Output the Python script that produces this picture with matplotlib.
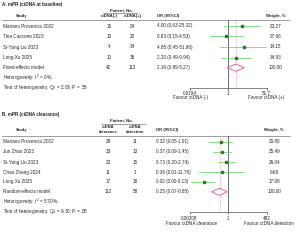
import matplotlib
matplotlib.use("Agg")
import matplotlib.pyplot as plt
from matplotlib.patches import Polygon

plt.rcParams['font.family'] = ['Liberation Sans', 'DejaVu Sans']

# ---------------- Data: panel A ----------------
studies_a = ["Mariano Provencio 2022", "Tina Cascone 2023", "Si-Yang Liu 2023", "Long Xu 2025"]
neg_a = [15, 13, 4, 10]
pos_a = [24, 20, 34, 35]
or_a = [4.00, 0.83, 4.85, 2.20]
lo_a = [0.63, 0.15, 0.45, 0.49]
hi_a = [25.32, 4.53, 51.66, 9.94]
wt_a = [23.27, 27.66, 14.15, 34.93]
pool_a = ("Fixed-effects model", 42, 113, 2.16, 0.89, 5.27, 100.00)
xlim_a = (0.0194, 51.7)
ticklab_a = ["0.0194", "1", "51.7"]

# ---------------- Data: panel B ----------------
studies_b = ["Mariano Provencio 2022", "Jun Zhao 2023", "Si-Yang Liu 2023", "Chao Zhang 2024", "Long Xu 2025"]
clr_b = [28, 33, 23, 11, 17]
det_b = [11, 13, 15, 1, 18]
or_b = [0.32, 0.37, 0.73, 0.39, 0.02]
lo_b = [0.05, 0.09, 0.20, 0.01, 0.0025]
hi_b = [1.91, 1.45, 2.74, 11.76, 0.13]
ci_txt_b = ["0.32 (0.05-1.91)", "0.37 (0.09-1.45)", "0.73 (0.20-2.74)", "0.39 (0.01-11.76)", "0.02 (0.00-0.13)"]
wt_b = [20.80, 25.49, 26.04, 9.69, 17.98]
pool_b = ("Random-effects model", 112, 58, 0.25, 0.07, 0.85, 100.00)
xlim_b = (0.00208, 482)
ticklab_b = ["0.00208", "1", "482"]

FS = 3.3
HFS = 3.0
LINE_GREEN = "#72d872"
SQ_GREEN = "#2a7a2a"
DIAMOND = "#e0507a"
DASH = "#f29ab0"
GRAY = "#555555"

fig = plt.figure(figsize=(3, 2.4), dpi=100)
ax0 = fig.add_axes([0, 0, 1, 1])
ax0.set_xlim(0, 300)
ax0.set_ylim(240, 0)
ax0.axis('off')


def T(x, y, s, ha='left', bold=False, fs=FS):
    ax0.text(x, y, s, ha=ha, va='center', fontsize=fs,
             fontweight='bold' if bold else 'normal', color='#262626')


def forest(ytop, ybot, xl, xr, xlim, ticklabs, rows_y, ors, los, his, pool, pool_y):
    ax = fig.add_axes([xl / 300, 1 - ybot / 240, (xr - xl) / 300, (ybot - ytop) / 240])
    ax.patch.set_alpha(0)
    ax.set_xscale('log')
    ax.set_xlim(*xlim)
    ax.set_ylim(ybot, ytop)
    for s in ['top', 'left', 'right']:
        ax.spines[s].set_visible(False)
    ax.spines['bottom'].set_linewidth(0.5)
    ax.spines['bottom'].set_color(GRAY)
    ax.set_yticks([])
    ax.set_xticks([xlim[0], 1, xlim[1]])
    ax.set_xticklabels(ticklabs)
    ax.minorticks_off()
    ax.tick_params(axis='x', labelsize=FS, length=1.5, width=0.5, pad=1, colors='#262626')
    ax.axvline(1, color=GRAY, lw=0.6)
    ax.axvline(pool[3], color=DASH, lw=0.5, ls=(0, (2, 1.2)))
    for y, o, lo, hi in zip(rows_y, ors, los, his):
        ax.plot([max(lo, xlim[0]), min(hi, xlim[1])], [y, y], color=LINE_GREEN, lw=0.6)
        ax.plot([o], [y], marker='s', ms=1.8, color=SQ_GREEN, mec=SQ_GREEN)
    est, lo, hi = pool[3], pool[4], pool[5]
    h = 3.6
    poly = Polygon([[lo, pool_y], [est, pool_y - h], [hi, pool_y], [est, pool_y + h]],
                   closed=True, facecolor='white', edgecolor=DIAMOND, lw=0.6, zorder=5)
    ax.add_patch(poly)
    return ax


# ---------------- Panel A ----------------
T(2, 4.5, "A. mPR (ctDNA at baseline)", bold=True)
T(121, 10.3, "Patient, No.", ha='center', bold=True, fs=HFS)
ax0.plot([103, 138], [12.5, 12.5], color=GRAY, lw=0.4)
T(22, 15.5, "Study", ha='center', bold=True, fs=HFS)
T(109, 15.5, "ctDNA(-)", ha='center', bold=True, fs=HFS)
T(132.5, 15.5, "ctDNA(+)", ha='center', bold=True, fs=HFS)
T(157, 15.5, "OR (95%CI)", bold=True, fs=HFS)
T(275.5, 15.5, "Weight, %", ha='center', bold=True, fs=HFS)
ax0.plot([2, 290], [19.5, 19.5], color=GRAY, lw=0.4)

rows_a = [26.0, 36.3, 47.0, 57.5]
for y, s, n1, n2, o, l, h, w in zip(rows_a, studies_a, neg_a, pos_a, or_a, lo_a, hi_a, wt_a):
    T(3, y, s)
    T(109, y, str(n1), ha='center')
    T(132.5, y, str(n2), ha='center')
    T(157, y, f"{o:.2f} ({l:.2f}-{h:.2f})")
    T(275.5, y, f"{w:.2f}", ha='center')
ya = 67.7
T(3, ya, pool_a[0])
T(109, ya, str(pool_a[1]), ha='center')
T(132.5, ya, str(pool_a[2]), ha='center')
T(157, ya, f"{pool_a[3]:.2f} ({pool_a[4]:.2f}-{pool_a[5]:.2f})")
T(275.5, ya, f"{pool_a[6]:.2f}", ha='center')
T(3, 77.7, "Heterogeneity: $I^2$ = 0%;")
T(3, 87.7, "Test of heterogeneity: Q$_3$ = 2.09; P = .55")

forest(19.5, 87.7, 190, 266.5, xlim_a, ticklab_a, rows_a, or_a, lo_a, hi_a, pool_a, ya)
T(191, 97.7, "Favour ctDNA (-)", ha='center')
T(266, 97.7, "Favour ctDNA (+)", ha='center')

# ---------------- Panel B ----------------
T(2, 114.3, "B. mPR (ctDNA clearance)", bold=True)
T(121, 120.2, "Patient, No.", ha='center', bold=True, fs=HFS)
ax0.plot([101, 146], [123.5, 123.5], color=GRAY, lw=0.4)
T(22, 130, "Study", ha='center', bold=True, fs=HFS)
T(108, 127.3, "ctDNA", ha='center', bold=True, fs=HFS)
T(108, 131.8, "clearance", ha='center', bold=True, fs=HFS)
T(135, 127.3, "ctDNA", ha='center', bold=True, fs=HFS)
T(135, 131.8, "detection", ha='center', bold=True, fs=HFS)
T(156, 130, "OR (95%CI)", bold=True, fs=HFS)
T(274, 130, "Weight, %", ha='center', bold=True, fs=HFS)
ax0.plot([2, 290], [136, 136], color=GRAY, lw=0.4)

rows_b = [141.7, 151.8, 162.2, 172.2, 181.8]
for y, s, n1, n2, c, w in zip(rows_b, studies_b, clr_b, det_b, ci_txt_b, wt_b):
    T(3, y, s)
    T(108, y, str(n1), ha='center')
    T(135, y, str(n2), ha='center')
    T(156, y, c)
    T(274.5, y, f"{w:.2f}", ha='center')
yb = 191.8
T(3, yb, pool_b[0])
T(108, yb, str(pool_b[1]), ha='center')
T(135, yb, str(pool_b[2]), ha='center')
T(156, yb, f"{pool_b[3]:.2f} ({pool_b[4]:.2f}-{pool_b[5]:.2f})")
T(274.5, yb, f"{pool_b[6]:.2f}", ha='center')
T(3, 201.7, "Heterogeneity: $I^2$ = 57.0%;")
T(3, 211.7, "Test of heterogeneity: Q$_4$ = 9.30; P = .05")

forest(136, 212.3, 189.5, 267, xlim_b, ticklab_b, rows_b, or_b, lo_b, hi_b, pool_b, yb)
T(192, 223.3, "Favour ctDNA clearance", ha='center')
T(269, 223.3, "Favour ctDNA detection", ha='center')

fig.savefig("out.png", dpi=100)
